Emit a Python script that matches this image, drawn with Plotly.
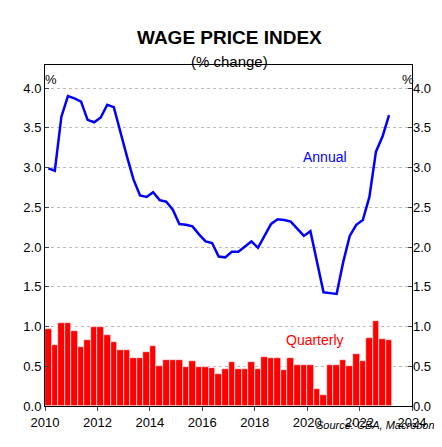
import plotly.graph_objects as go

quarterly = [0.97,0.77,1.05,1.04,0.94,0.74,0.83,1.0,0.99,0.89,0.80,0.70,0.70,0.60,0.60,0.68,0.76,
0.50,0.58,0.58,0.58,0.49,0.57,0.49,0.49,0.48,0.40,0.47,0.55,0.47,0.47,0.55,0.46,0.62,0.61,0.61,
0.45,0.60,0.52,0.52,0.52,0.21,0.14,0.51,0.51,0.58,0.50,0.65,0.57,0.86,1.07,0.84,0.83]
annual = [2.99,2.96,3.64,3.90,3.87,3.83,3.60,3.57,3.63,3.79,3.76,3.44,3.14,2.85,2.65,2.63,2.69,
2.59,2.57,2.47,2.29,2.28,2.26,2.16,2.07,2.05,1.88,1.87,1.94,1.94,2.01,2.07,1.99,2.14,2.29,2.35,
2.34,2.32,2.23,2.14,2.20,1.81,1.43,1.42,1.41,1.81,2.14,2.28,2.34,2.63,3.20,3.39,3.66]
dates = [2010 + i*0.25 + 0.125 for i in range(len(quarterly))]
yticks = [0.0,0.5,1.0,1.5,2.0,2.5,3.0,3.5,4.0]
xticks = list(range(2010, 2025, 2))

W, H = 442, 447
L, R, T, B = 37, 38, 57, 49
pw, ph = W-L-R, H-T-B
def px(xp): return (xp-L)/pw
def py(yp): return (H-B-yp)/ph

fig = go.Figure()
fig.add_bar(x=dates, y=quarterly, marker=dict(color="#ff0000", line=dict(width=0.6, color="white")), width=0.25)
fig.add_scatter(x=dates, y=annual, mode="lines", line=dict(color="#0000ff", width=2.5), yaxis="y2")
fig.update_layout(
    width=W, height=H, showlegend=False, plot_bgcolor="white", paper_bgcolor="white",
    margin=dict(l=L, r=R, t=T, b=B, autoexpand=False), bargap=0,
    font=dict(family="Liberation Sans, Arial", size=13, color="black"),
    xaxis=dict(range=[2010, 2024], tickvals=xticks, ticks="outside", ticklen=4, showline=True, mirror=True,
               linecolor="black", showgrid=False, automargin=False),
    yaxis=dict(range=[0, 4.29], tickvals=yticks, tickformat=".1f", ticks="inside", ticklen=4, showline=True,
               mirror=True, linecolor="black", gridcolor="#bbbbbb", griddash="dot", automargin=False),
    yaxis2=dict(range=[0, 4.29], tickvals=yticks, tickformat=".1f", ticks="inside", ticklen=4, overlaying="y",
                side="right", showgrid=False, automargin=False),
)
fig.add_annotation(text="<b>WAGE PRICE INDEX</b>", x=px(221), y=py(17), xref="paper", yref="paper", showarrow=False, font=dict(size=19))
fig.add_annotation(text="(% change)", x=px(221), y=py(43), xref="paper", yref="paper", showarrow=False, font=dict(size=15))
fig.add_annotation(text="%", x=px(35), y=py(62), xref="paper", yref="paper", showarrow=False, font=dict(size=13))
fig.add_annotation(text="%", x=px(408), y=py(62), xref="paper", yref="paper", showarrow=False, font=dict(size=13))
fig.add_annotation(text="<i>Source: CBA, Macrobond</i>", x=px(436), y=py(425), xref="paper", yref="paper", xanchor="right", showarrow=False, font=dict(size=11))
fig.add_annotation(text="Annual", x=2020.7, y=3.13, showarrow=False, font=dict(color="#0000ff", size=14))
fig.add_annotation(text="Quarterly", x=2020.3, y=0.83, showarrow=False, font=dict(color="#ff0000", size=14))
fig.write_html("out.html")
